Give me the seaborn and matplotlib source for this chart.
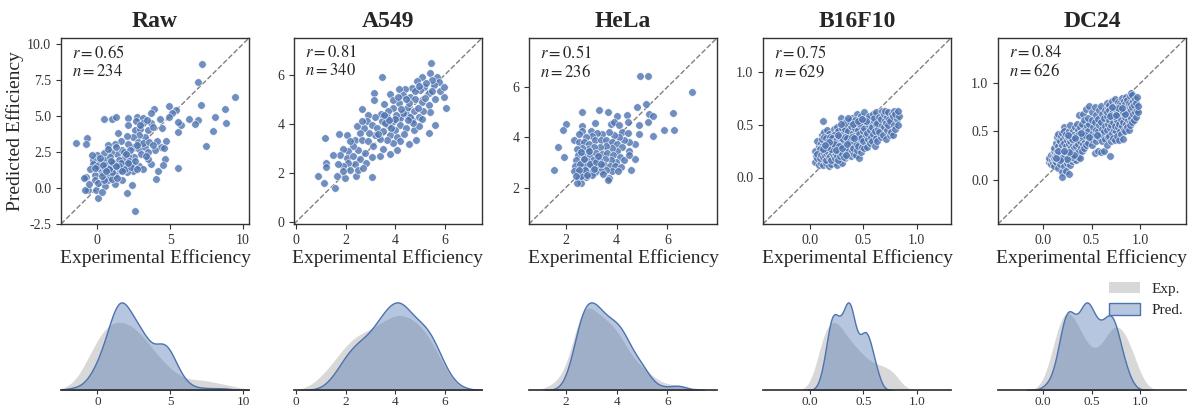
import matplotlib
matplotlib.use("Agg")
import matplotlib.pyplot as plt
import pandas as pd
import seaborn as sns
from matplotlib.patches import Patch
from matplotlib.ticker import MultipleLocator

# panels and their stats
panels = ["Raw", "A549", "HeLa", "B16F10", "DC24"]
r_vals = [0.65, 0.81, 0.51, 0.75, 0.84]
n_vals = [234, 340, 236, 629, 626]

# (experimental, predicted) pairs
raw_pts = [
    (7.20, 8.60), (6.90, 7.36), (9.41, 6.32), (7.13, 5.74), (8.72, 5.51), (8.79, 4.52),
    (8.10, 4.89), (7.93, 3.96), (7.47, 2.90), (6.90, 4.70), (6.72, 4.42), (6.26, 4.75),
    (5.50, 3.89), (5.75, 4.35), (5.50, 4.59), (5.50, 1.41), (4.92, 5.70), (5.38, 5.40),
    (5.11, 5.17), (4.92, 4.93), (3.89, 5.51), (3.68, 5.17), (4.26, 4.75), (4.42, 4.17),
    (4.72, 3.24), (4.37, 2.85), (4.67, 1.99), (4.53, 1.58), (4.19, 1.16), (4.03, 0.63),
    (3.68, 1.65), (3.50, 2.02), (2.58, -1.57), (2.03, -0.32), (0.05, -0.67), (2.39, 0.23),
    (-1.45, 3.15), (-0.69, 3.43), (-0.80, 3.08), (0.46, 4.79), (0.97, 4.77), (1.27, 4.89),
    (1.38, 3.82), (2.12, 4.82), (2.69, 4.89), (3.15, 4.86), (3.66, 4.52), (3.15, 4.52),
    (2.62, 4.63), (2.12, 4.40), (2.58, 4.01), (2.92, 4.12), (3.45, 4.05), (3.84, 4.24),
    (4.07, 3.24), (4.55, 2.80), (3.96, 2.62), (3.27, 3.50), (2.85, 3.66), (2.42, 3.55),
    (2.00, 3.59), (1.59, 3.24), (1.20, 3.08), (0.74, 3.01), (2.46, 2.85), (2.85, 2.73),
    (3.27, 2.85), (3.50, 2.50), (2.99, 2.34), (2.53, 2.16), (2.12, 2.20), (1.73, 2.04),
    (1.31, 2.34), (0.92, 2.50), (0.46, 2.43), (0.00, 2.27), (-0.30, 1.92), (-0.30, 1.65),
    (0.16, 1.81), (0.51, 1.92), (0.97, 1.81), (1.38, 1.69), (1.89, 1.58), (2.35, 1.69),
    (2.88, 1.51), (3.11, 1.28), (2.46, 1.18), (2.00, 1.11), (1.54, 1.23), (1.20, 0.93),
    (0.74, 1.00), (0.28, 1.11), (-0.18, 0.88), (-0.76, 0.77), (-0.92, 0.72), (-0.18, 0.53),
    (-0.64, -0.11), (-0.82, -0.16), (-0.07, -0.11), (0.51, 0.12), (0.28, -0.27), (0.05, 0.35),
    (0.74, 0.53), (1.20, 0.30), (1.66, 0.53), (0.46, 0.53), (0.97, 0.65), (0.05, 1.35),
    (0.51, 1.41), (1.08, 1.35), (0.85, 2.16), (1.66, 2.62), (1.27, 2.85), (2.07, 3.08),
    (2.81, 3.20), (3.15, 3.13), (3.54, 3.20), (1.84, 2.50), (2.23, 2.62), (2.69, 2.96),
    (0.30, 0.80), (0.62, 1.60), (1.45, 1.95), (1.02, 1.10), (0.20, 2.05), (-0.50, 1.30),
    (-0.55, 0.30), (1.75, 1.35), (1.35, 0.70), (2.20, 1.90), (0.70, 2.70), (1.95, 2.35),
    (-0.40, 2.30), (0.85, 1.45), (1.60, 1.75), (2.60, 1.90), (3.30, 2.20), (3.80, 3.00),
    (2.95, 4.40), (3.40, 4.70), (0.00, 1.50), (0.40, 1.60), (0.80, 1.30), (1.10, 1.70),
    (1.50, 1.50), (1.90, 1.30), (2.30, 1.45), (0.60, 1.20), (1.30, 1.55), (1.70, 1.20),
    (-0.20, 1.40), (0.90, 1.90), (2.10, 1.75), (2.70, 1.30),
]

a549_pts = [
    (5.45, 6.50), (3.46, 5.92), (6.05, 4.64), (5.62, 3.97), (5.35, 3.63), (4.54, 3.20),
    (4.83, 3.33), (1.16, 3.41), (1.73, 3.59), (2.04, 3.56), (1.23, 2.41), (1.20, 2.25),
    (0.89, 1.87), (1.13, 1.60), (1.57, 1.39), (1.67, 1.87), (1.97, 1.81), (2.40, 1.87),
    (3.08, 1.85), (3.16, 5.25), (3.16, 4.98), (3.79, 5.21), (3.55, 4.82), (2.65, 4.60),
    (5.09, 5.90), (5.41, 6.06), (5.68, 5.92), (5.78, 5.72), (5.55, 5.58), (5.95, 5.11),
    (5.82, 5.32), (4.87, 5.76), (5.17, 5.52), (5.35, 5.25), (5.01, 5.38), (4.67, 5.45),
    (4.40, 5.41), (4.17, 5.41), (4.33, 5.18), (4.58, 5.11), (4.81, 5.01), (5.08, 4.91),
    (5.35, 4.78), (5.41, 4.47), (5.14, 4.51), (4.94, 4.30), (4.67, 4.14), (4.74, 4.51),
    (4.47, 4.64), (4.47, 4.37), (4.20, 4.24), (4.17, 4.87), (3.93, 4.98), (3.93, 4.64),
    (3.73, 4.51), (3.66, 4.30), (3.93, 4.10), (4.20, 3.97), (4.44, 3.83), (4.74, 3.76),
    (4.94, 3.93), (3.99, 3.76), (3.73, 3.97), (3.46, 4.10), (3.42, 4.41), (3.19, 4.30),
    (2.92, 4.37), (2.85, 4.10), (3.05, 3.97), (3.25, 3.83), (3.52, 3.70), (3.79, 3.56),
    (4.06, 3.47), (4.20, 3.29), (3.93, 3.22), (3.66, 3.36), (3.39, 3.39), (3.19, 3.56),
    (2.96, 3.63), (2.75, 3.83), (2.58, 3.63), (2.38, 3.36), (2.65, 3.36), (2.92, 3.29),
    (3.12, 3.09), (3.50, 2.98), (3.79, 2.79), (4.06, 2.95), (3.39, 2.68), (3.05, 2.66),
    (2.78, 2.82), (2.51, 2.95), (2.31, 3.09), (2.11, 2.89), (1.90, 2.98), (1.77, 2.75),
    (2.04, 2.62), (2.31, 2.68), (2.58, 2.55), (2.82, 2.41), (2.38, 2.35), (2.11, 2.39),
    (1.88, 2.28), (1.70, 2.35), (1.50, 2.75), (2.17, 2.14), (1.90, 2.08), (2.51, 2.12),
    (2.71, 2.21), (2.17, 3.29), (2.44, 3.90), (2.65, 4.10), (5.95, 5.52), (5.48, 5.79),
    (5.25, 5.65), (4.81, 5.32), (4.30, 4.45), (4.55, 4.85), (5.20, 5.05), (4.05, 4.35),
    (3.60, 4.05), (4.35, 3.60), (5.60, 5.00), (4.90, 4.65), (5.10, 4.20), (3.85, 3.85),
    (4.60, 4.30), (4.10, 5.10), (5.50, 5.35), (3.30, 3.60), (4.95, 5.55), (4.45, 5.00),
    (4.25, 4.60), (4.00, 4.20), (4.70, 4.05), (3.75, 4.15), (4.50, 4.15), (3.55, 4.35),
]

hela_pts = [
    (4.93, 6.43), (5.22, 6.43), (6.96, 5.80), (5.15, 5.32), (4.80, 5.19), (4.40, 4.90),
    (5.28, 4.93), (5.44, 4.86), (6.23, 4.96), (5.22, 4.60), (4.89, 4.47), (6.25, 4.30),
    (5.85, 4.28), (5.44, 4.04), (4.89, 4.12), (4.73, 3.73), (4.49, 3.47), (4.72, 3.14),
    (4.58, 2.71), (2.65, 4.99), (3.31, 5.10), (3.64, 5.02), (4.03, 4.86), (4.43, 4.60),
    (1.99, 4.51), (1.90, 4.30), (1.70, 3.62), (1.92, 3.20), (1.55, 2.71), (2.34, 3.91),
    (2.62, 4.45), (2.65, 4.25), (2.98, 4.25), (3.15, 4.56), (3.77, 4.51), (3.90, 4.60),
    (4.10, 4.47), (4.23, 4.21), (4.43, 4.17), (4.49, 3.82), (4.29, 3.88), (4.10, 4.01),
    (3.90, 4.08), (3.70, 4.21), (3.44, 4.14), (3.24, 4.17), (3.02, 4.04), (2.78, 4.01),
    (2.52, 4.14), (2.52, 3.82), (2.71, 3.82), (2.91, 3.75), (3.15, 3.88), (3.37, 3.88),
    (3.57, 3.91), (3.81, 3.82), (4.03, 3.75), (4.23, 3.60), (4.03, 3.47), (3.81, 3.56),
    (3.57, 3.65), (3.33, 3.60), (3.11, 3.60), (2.88, 3.52), (2.65, 3.56), (2.45, 3.52),
    (2.49, 3.30), (2.71, 3.26), (2.94, 3.30), (3.17, 3.36), (3.41, 3.33), (3.63, 3.36),
    (3.86, 3.30), (4.12, 3.20), (4.29, 3.10), (3.99, 3.03), (3.77, 3.10), (3.54, 3.13),
    (3.31, 3.10), (3.07, 3.10), (2.84, 3.07), (2.62, 3.03), (2.41, 3.10), (2.38, 2.86),
    (2.58, 2.81), (2.80, 2.86), (3.04, 2.84), (3.28, 2.86), (3.50, 2.90), (3.73, 2.86),
    (3.94, 2.84), (4.16, 2.81), (3.83, 2.64), (3.60, 2.68), (3.37, 2.64), (3.15, 2.60),
    (2.91, 2.58), (2.67, 2.58), (2.45, 2.60), (2.32, 2.64), (2.52, 2.38), (2.78, 2.42),
    (3.04, 2.51), (3.46, 2.55), (3.70, 2.38), (3.67, 2.29), (2.58, 2.18), (4.07, 2.64),
    (4.49, 3.30), (2.45, 2.20), (2.60, 2.45), (2.55, 2.95), (2.75, 2.70), (2.95, 2.95),
    (3.20, 3.00), (2.70, 3.15), (2.85, 2.50), (3.10, 2.75), (2.50, 2.70), (2.90, 3.45),
    (3.25, 3.25), (2.60, 3.40), (3.40, 2.95), (2.40, 2.45),
]

b16_pts = [
    (0.05, 0.15), (0.06, 0.20), (0.05, 0.25), (0.08, 0.12), (0.07, 0.18), (0.09, 0.22),
    (0.08, 0.30), (0.07, 0.35), (0.10, 0.14), (0.11, 0.20), (0.10, 0.24), (0.11, 0.28),
    (0.10, 0.33), (0.11, 0.40), (0.12, 0.12), (0.13, 0.17), (0.12, 0.21), (0.13, 0.26),
    (0.12, 0.31), (0.14, 0.37), (0.13, 0.43), (0.12, 0.53), (0.15, 0.14), (0.16, 0.19),
    (0.15, 0.22), (0.16, 0.27), (0.15, 0.34), (0.17, 0.39), (0.16, 0.45), (0.18, 0.11),
    (0.19, 0.16), (0.18, 0.21), (0.19, 0.25), (0.18, 0.30), (0.19, 0.36), (0.18, 0.41),
    (0.20, 0.13), (0.21, 0.18), (0.20, 0.22), (0.22, 0.28), (0.21, 0.35), (0.20, 0.38),
    (0.22, 0.46), (0.23, 0.15), (0.24, 0.20), (0.23, 0.24), (0.24, 0.30), (0.23, 0.37),
    (0.24, 0.42), (0.25, 0.48), (0.25, 0.12), (0.26, 0.19), (0.25, 0.23), (0.26, 0.33),
    (0.27, 0.36), (0.26, 0.44), (0.28, 0.16), (0.29, 0.22), (0.28, 0.27), (0.29, 0.35),
    (0.28, 0.39), (0.30, 0.47), (0.29, 0.56), (0.30, 0.14), (0.31, 0.20), (0.31, 0.25),
    (0.32, 0.31), (0.30, 0.37), (0.31, 0.41), (0.32, 0.50), (0.33, 0.18), (0.34, 0.23),
    (0.33, 0.29), (0.34, 0.36), (0.35, 0.40), (0.33, 0.46), (0.34, 0.53), (0.36, 0.21),
    (0.35, 0.26), (0.36, 0.34), (0.37, 0.38), (0.36, 0.44), (0.37, 0.51), (0.38, 0.20),
    (0.39, 0.25), (0.38, 0.32), (0.39, 0.37), (0.40, 0.42), (0.38, 0.49), (0.39, 0.56),
    (0.41, 0.22), (0.40, 0.28), (0.42, 0.35), (0.41, 0.39), (0.42, 0.47), (0.41, 0.53),
    (0.43, 0.21), (0.44, 0.26), (0.43, 0.33), (0.44, 0.38), (0.45, 0.45), (0.43, 0.52),
    (0.44, 0.60), (0.46, 0.18), (0.45, 0.30), (0.47, 0.36), (0.46, 0.41), (0.47, 0.50),
    (0.46, 0.55), (0.48, 0.24), (0.49, 0.29), (0.48, 0.37), (0.50, 0.44), (0.49, 0.52),
    (0.48, 0.58), (0.51, 0.28), (0.50, 0.35), (0.52, 0.40), (0.51, 0.47), (0.50, 0.53),
    (0.51, 0.62), (0.53, 0.29), (0.54, 0.36), (0.53, 0.42), (0.55, 0.50), (0.54, 0.55),
    (0.56, 0.33), (0.57, 0.38), (0.56, 0.45), (0.57, 0.52), (0.55, 0.58), (0.58, 0.35),
    (0.59, 0.41), (0.58, 0.48), (0.60, 0.53), (0.59, 0.60), (0.61, 0.30), (0.62, 0.37),
    (0.61, 0.44), (0.62, 0.51), (0.60, 0.56), (0.62, 0.62), (0.63, 0.35), (0.64, 0.46),
    (0.63, 0.52), (0.65, 0.57), (0.66, 0.38), (0.65, 0.43), (0.67, 0.50), (0.66, 0.55),
    (0.67, 0.63), (0.68, 0.40), (0.69, 0.48), (0.70, 0.54), (0.69, 0.60), (0.71, 0.36),
    (0.72, 0.45), (0.71, 0.52), (0.72, 0.57), (0.70, 0.63), (0.73, 0.50), (0.74, 0.55),
    (0.73, 0.62), (0.75, 0.40), (0.76, 0.43), (0.75, 0.53), (0.77, 0.60), (0.78, 0.40),
    (0.79, 0.50), (0.78, 0.58), (0.79, 0.63), (0.80, 0.46), (0.81, 0.55), (0.80, 0.60),
    (0.82, 0.50), (0.83, 0.58), (0.82, 0.63), (0.14, 0.24), (0.17, 0.29), (0.21, 0.26),
    (0.24, 0.33), (0.27, 0.21), (0.19, 0.33), (0.22, 0.40), (0.16, 0.32), (0.26, 0.25),
    (0.29, 0.31), (0.13, 0.35), (0.09, 0.27), (0.20, 0.31), (0.25, 0.38),
    (0.07, 0.22), (0.09, 0.18), (0.10, 0.21), (0.12, 0.19), (0.13, 0.23), (0.14, 0.20),
    (0.15, 0.17), (0.16, 0.22), (0.17, 0.24), (0.18, 0.19), (0.19, 0.20), (0.20, 0.17),
    (0.21, 0.23), (0.22, 0.20), (0.23, 0.18), (0.24, 0.22), (0.25, 0.20), (0.26, 0.17),
    (0.27, 0.24), (0.28, 0.20), (0.30, 0.22), (0.32, 0.19), (0.34, 0.21), (0.11, 0.36),
    (0.13, 0.38), (0.15, 0.37), (0.17, 0.35), (0.19, 0.38), (0.21, 0.37), (0.23, 0.35),
    (0.25, 0.36), (0.27, 0.38), (0.29, 0.37), (0.31, 0.36), (0.33, 0.38), (0.35, 0.37),
    (0.37, 0.35), (0.39, 0.38), (0.41, 0.37), (0.20, 0.27), (0.22, 0.32), (0.16, 0.29),
    (0.27, 0.30), (0.24, 0.26), (0.18, 0.34), (0.30, 0.28), (0.35, 0.32), (0.12, 0.27),
    (0.14, 0.31), (0.26, 0.40), (0.33, 0.52), (0.37, 0.53), (0.42, 0.54), (0.46, 0.52),
    (0.52, 0.53), (0.40, 0.51), (0.45, 0.53), (0.29, 0.51), (0.36, 0.56), (0.49, 0.55),
]

dc24_pts = [
    (0.06, 0.18), (0.07, 0.20), (0.06, 0.23), (0.08, 0.16), (0.09, 0.20), (0.08, 0.26),
    (0.10, 0.17), (0.11, 0.22), (0.10, 0.25), (0.11, 0.30), (0.12, 0.14), (0.13, 0.19),
    (0.12, 0.23), (0.13, 0.28), (0.12, 0.33), (0.14, 0.18), (0.15, 0.21), (0.14, 0.26),
    (0.15, 0.30), (0.14, 0.38), (0.15, 0.44), (0.16, 0.12), (0.17, 0.20), (0.16, 0.24),
    (0.17, 0.29), (0.16, 0.35), (0.17, 0.41), (0.16, 0.47), (0.18, 0.16), (0.19, 0.22),
    (0.18, 0.27), (0.19, 0.33), (0.18, 0.40), (0.19, 0.45), (0.20, 0.08), (0.21, 0.19),
    (0.20, 0.24), (0.21, 0.30), (0.20, 0.36), (0.21, 0.42), (0.20, 0.48), (0.22, 0.55),
    (0.20, 0.03), (0.22, 0.14), (0.23, 0.20), (0.22, 0.27), (0.23, 0.32), (0.22, 0.38),
    (0.23, 0.45), (0.22, 0.50), (0.24, 0.09), (0.25, 0.17), (0.24, 0.23), (0.25, 0.29),
    (0.24, 0.35), (0.25, 0.41), (0.24, 0.47), (0.27, 0.06), (0.26, 0.20), (0.27, 0.26),
    (0.26, 0.31), (0.27, 0.37), (0.26, 0.44), (0.27, 0.50), (0.28, 0.15), (0.29, 0.22),
    (0.28, 0.28), (0.29, 0.34), (0.28, 0.40), (0.29, 0.47), (0.28, 0.57), (0.30, 0.19),
    (0.31, 0.25), (0.30, 0.30), (0.31, 0.36), (0.30, 0.43), (0.31, 0.50), (0.32, 0.21),
    (0.33, 0.27), (0.32, 0.33), (0.33, 0.39), (0.32, 0.46), (0.33, 0.55), (0.34, 0.20),
    (0.35, 0.29), (0.34, 0.35), (0.35, 0.42), (0.34, 0.48), (0.35, 0.58), (0.36, 0.24),
    (0.37, 0.30), (0.36, 0.37), (0.37, 0.44), (0.36, 0.52), (0.37, 0.67), (0.38, 0.22),
    (0.39, 0.33), (0.38, 0.40), (0.39, 0.46), (0.38, 0.55), (0.40, 0.30), (0.41, 0.37),
    (0.40, 0.43), (0.41, 0.50), (0.40, 0.58), (0.41, 0.68), (0.42, 0.33), (0.43, 0.40),
    (0.42, 0.46), (0.43, 0.52), (0.42, 0.62), (0.44, 0.36), (0.45, 0.44), (0.44, 0.49),
    (0.45, 0.56), (0.44, 0.73), (0.46, 0.38), (0.47, 0.45), (0.46, 0.50), (0.47, 0.58),
    (0.46, 0.64), (0.47, 0.76), (0.50, 0.36), (0.51, 0.42), (0.50, 0.47), (0.52, 0.55),
    (0.51, 0.62), (0.50, 0.70), (0.54, 0.28), (0.55, 0.40), (0.54, 0.46), (0.55, 0.52),
    (0.54, 0.60), (0.55, 0.67), (0.54, 0.75), (0.57, 0.30), (0.58, 0.44), (0.57, 0.50),
    (0.58, 0.57), (0.57, 0.63), (0.58, 0.72), (0.60, 0.29), (0.61, 0.40), (0.60, 0.47),
    (0.61, 0.53), (0.60, 0.60), (0.61, 0.68), (0.60, 0.76), (0.63, 0.30), (0.64, 0.42),
    (0.63, 0.50), (0.64, 0.56), (0.63, 0.64), (0.64, 0.72), (0.66, 0.36), (0.67, 0.44),
    (0.66, 0.52), (0.67, 0.58), (0.66, 0.66), (0.67, 0.74), (0.66, 0.80), (0.69, 0.25),
    (0.68, 0.45), (0.69, 0.54), (0.68, 0.62), (0.69, 0.70), (0.68, 0.77), (0.70, 0.40),
    (0.71, 0.48), (0.70, 0.57), (0.71, 0.65), (0.70, 0.72), (0.71, 0.82), (0.72, 0.43),
    (0.73, 0.52), (0.72, 0.60), (0.73, 0.68), (0.72, 0.75), (0.74, 0.41), (0.75, 0.50),
    (0.74, 0.56), (0.75, 0.63), (0.74, 0.70), (0.75, 0.78), (0.74, 0.84), (0.76, 0.45),
    (0.77, 0.55), (0.76, 0.62), (0.77, 0.69), (0.76, 0.75), (0.77, 0.81), (0.78, 0.41),
    (0.79, 0.50), (0.78, 0.58), (0.79, 0.66), (0.78, 0.72), (0.79, 0.80), (0.80, 0.47),
    (0.81, 0.56), (0.80, 0.63), (0.81, 0.70), (0.80, 0.77), (0.81, 0.85), (0.82, 0.42),
    (0.83, 0.52), (0.82, 0.60), (0.83, 0.68), (0.82, 0.74), (0.83, 0.82), (0.84, 0.50),
    (0.85, 0.58), (0.84, 0.65), (0.85, 0.72), (0.84, 0.79), (0.85, 0.86), (0.86, 0.55),
    (0.87, 0.62), (0.86, 0.70), (0.87, 0.76), (0.86, 0.83), (0.88, 0.52), (0.89, 0.60),
    (0.88, 0.67), (0.89, 0.74), (0.88, 0.80), (0.89, 0.87), (0.90, 0.57), (0.91, 0.64),
    (0.90, 0.71), (0.91, 0.78), (0.91, 0.90), (0.92, 0.60), (0.93, 0.68), (0.92, 0.75),
    (0.93, 0.82), (0.92, 0.88), (0.94, 0.62), (0.95, 0.70), (0.94, 0.77), (0.95, 0.84),
    (0.96, 0.65), (0.97, 0.72), (0.96, 0.80), (0.97, 0.86), (0.98, 0.70), (0.98, 0.76),
    (0.13, 0.24), (0.15, 0.26), (0.17, 0.23), (0.18, 0.25), (0.19, 0.28), (0.21, 0.25),
    (0.23, 0.26), (0.24, 0.28), (0.26, 0.24), (0.28, 0.25), (0.29, 0.27), (0.30, 0.24),
    (0.32, 0.26), (0.16, 0.30), (0.20, 0.22), (0.25, 0.21), (0.27, 0.29), (0.22, 0.30),
    (0.18, 0.20), (0.14, 0.22), (0.28, 0.44), (0.31, 0.46), (0.34, 0.45), (0.37, 0.47),
    (0.40, 0.45), (0.43, 0.46), (0.30, 0.42), (0.26, 0.46), (0.33, 0.43), (0.39, 0.48),
    (0.47, 0.44), (0.56, 0.46), (0.66, 0.70), (0.68, 0.72), (0.70, 0.68), (0.72, 0.71),
    (0.74, 0.73), (0.76, 0.70), (0.78, 0.69), (0.80, 0.72), (0.82, 0.70), (0.84, 0.68),
    (0.73, 0.66), (0.77, 0.74), (0.69, 0.66), (0.75, 0.67), (0.81, 0.74), (0.71, 0.75),
]

all_pts = [raw_pts, a549_pts, hela_pts, b16_pts, dc24_pts]

# axis limits (same on both axes) and tick spacing
lims = [(-2.5, 10.4), (-0.08, 7.5), (0.55, 7.95), (-0.44, 1.32), (-0.46, 1.47)]
steps = [(5, 2.5), (2, 2), (2, 2), (0.5, 0.5), (0.5, 0.5)]

blue = "#4c72b0"
gray = "#c4c4c4"

sns.set_theme(style="ticks")
plt.rcParams["font.family"] = ["Liberation Serif", "DejaVu Serif"]
plt.rcParams["mathtext.fontset"] = "stix"
plt.rcParams["axes.unicode_minus"] = False
plt.rcParams["axes.edgecolor"] = "#333333"
plt.rcParams["xtick.color"] = "#333333"
plt.rcParams["ytick.color"] = "#333333"

fig = plt.figure(figsize=(12.01, 4.12), dpi=100)
W, H = 1201, 412
lefts = [61, 294, 529, 763, 998]

for i, name in enumerate(panels):
    df = pd.DataFrame(all_pts[i], columns=["exp", "pred"])
    lo, hi = lims[i]

    ax = fig.add_axes([lefts[i] / W, (H - 224) / H, 188 / W, 186 / H])
    ax.plot([lo, hi], [lo, hi], ls="--", color="gray", lw=1, zorder=0)
    sns.scatterplot(data=df, x="exp", y="pred", ax=ax, s=30, color=blue,
                    alpha=0.8, edgecolor="white", linewidth=0.5)
    ax.set_xlim(lo, hi)
    ax.set_ylim(lo, hi)
    ax.xaxis.set_major_locator(MultipleLocator(steps[i][0]))
    ax.yaxis.set_major_locator(MultipleLocator(steps[i][1]))
    ax.tick_params(labelsize=10, length=3.5, width=0.8)
    for sp in ax.spines.values():
        sp.set_linewidth(1.0)
    ax.set_title(name, fontsize=17, fontweight="bold", pad=8)
    ax.set_xlabel("Experimental Efficiency", fontsize=14, labelpad=2)
    ax.set_ylabel("Predicted Efficiency" if i == 0 else "", fontsize=14, labelpad=2)
    ax.text(0.06, 0.96, f"$r = {r_vals[i]:.2f}$\n$n = {n_vals[i]}$",
            transform=ax.transAxes, ha="left", va="top", fontsize=12, linespacing=1.1)

    # density of experimental vs predicted
    kx = fig.add_axes([lefts[i] / W, 22 / H, 188 / W, 92 / H])
    sns.kdeplot(x=df["exp"], ax=kx, fill=True, color=gray, alpha=0.65, linewidth=0)
    sns.kdeplot(x=df["pred"], ax=kx, fill=True, color=blue, alpha=0.4, linewidth=1)
    kx.set_xlim(lo, hi)
    kx.xaxis.set_major_locator(MultipleLocator(steps[i][0]))
    kx.set_yticks([])
    kx.set_xlabel("")
    kx.set_ylabel("")
    kx.tick_params(labelsize=9.5, length=3, width=0.8, pad=1.5)
    sns.despine(ax=kx, left=True)

handles = [Patch(facecolor=gray, alpha=0.65, edgecolor="none", label="Exp."),
           Patch(facecolor=(0.298, 0.447, 0.690, 0.4), edgecolor=blue, label="Pred.")]
fig.legend(handles=handles, loc="upper right", bbox_to_anchor=(0.997, 0.35),
           frameon=False, fontsize=11, handlelength=2.0, handleheight=0.8)

fig.savefig("out.png", dpi=100)
